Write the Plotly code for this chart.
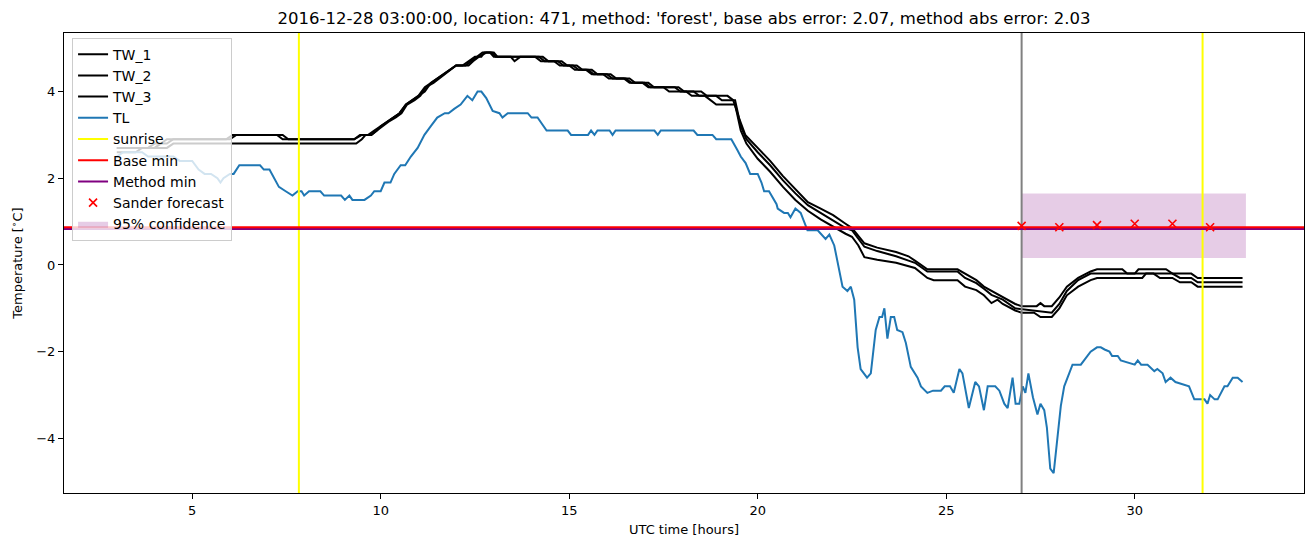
import plotly.graph_objects as go

# ---------------- data ----------------
tl_pts = [(3.0,2.5),(3.17,2.6),(3.67,2.6),(3.83,2.5),(4.5,2.5),(4.67,2.4),(5.0,2.4),(5.17,2.2),(5.33,2.1),
          (5.5,2.1),(5.67,2.0),(5.75,1.9),(5.83,2.0),(6.0,2.1),(6.1,2.1),(6.25,2.3),(6.8,2.3),(6.9,2.2),
          (7.05,2.2),(7.3,1.8),(7.48,1.7),(7.66,1.6),(7.8,1.7),(7.9,1.7),(7.97,1.6),(8.1,1.7),(8.4,1.7),
          (8.5,1.6),(8.95,1.6),(9.05,1.5),(9.17,1.6),(9.25,1.5),(9.57,1.5),(9.74,1.6),(9.83,1.7),(10.0,1.7),
          (10.1,1.9),(10.26,1.9),(10.36,2.1),(10.53,2.3),(10.65,2.3),(10.8,2.5),(10.98,2.7),(11.16,3.0),
          (11.33,3.2),(11.5,3.4),(11.7,3.5),(11.8,3.5),(11.95,3.6),(12.12,3.7),(12.3,3.9),(12.43,3.8),
          (12.57,4.0),(12.67,4.0),(12.8,3.85),(12.97,3.55),(13.15,3.5),(13.23,3.4),(13.37,3.5),(13.9,3.5),
          (14.0,3.4),(14.16,3.4),(14.4,3.1),(14.96,3.1),(15.05,3.0),(15.5,3.0),(15.58,3.1),(15.67,3.0),
          (15.75,3.1),(16.07,3.1),(16.15,3.0),(16.23,3.1),(17.26,3.1),(17.35,3.0),(17.43,3.1),(18.3,3.1),
          (18.4,3.0),(18.8,3.0),(18.9,2.9),(19.3,2.9),(19.46,2.65),(19.55,2.5),(19.68,2.35),(19.8,2.1),
          (20.0,2.1),(20.1,1.9),(20.17,1.7),(20.3,1.7),(20.5,1.4),(20.53,1.3),(20.7,1.2),(20.8,1.2),
          (20.87,1.1),(21.0,1.3),(21.14,1.2),(21.32,0.8),(21.59,0.8),(21.8,0.6),(21.9,0.7),(22.03,0.45),
          (22.25,-0.5),(22.38,-0.6),(22.47,-0.5),(22.56,-0.8),(22.65,-1.9),(22.73,-2.4),(22.9,-2.6),
          (23.0,-2.5),(23.13,-1.5),(23.23,-1.2),(23.3,-1.2),(23.36,-1.0),(23.44,-1.7),(23.53,-1.2),
          (23.62,-1.2),(23.7,-1.5),(23.84,-1.55),(23.93,-1.8),(24.06,-2.35),(24.24,-2.6),(24.33,-2.8),
          (24.5,-2.95),(24.65,-2.9),(24.86,-2.9),(24.96,-2.8),(25.1,-2.8),(25.2,-2.95),(25.35,-2.4),
          (25.43,-2.5),(25.6,-3.3),(25.77,-2.7),(25.87,-2.8),(26.0,-3.35),(26.1,-2.8),(26.3,-2.8),
          (26.41,-2.9),(26.54,-3.2),(26.63,-3.3),(26.76,-2.6),(26.84,-3.2),(26.94,-3.2),(27.03,-2.8),
          (27.1,-2.95),(27.18,-2.5),(27.3,-3.05),(27.42,-3.45),(27.5,-3.2),(27.6,-3.35),(27.67,-3.75),
          (27.76,-4.7),(27.85,-4.8),(27.95,-4.05),(28.04,-3.25),(28.13,-2.8),(28.27,-2.45),(28.35,-2.3),
          (28.57,-2.3),(28.7,-2.15),(28.83,-2.0),(29.0,-1.9),(29.1,-1.9),(29.2,-1.95),(29.33,-2.0),
          (29.4,-2.1),(29.55,-2.1),(29.63,-2.2),(30.0,-2.3),(30.08,-2.2),(30.17,-2.3),(30.34,-2.3),
          (30.52,-2.45),(30.6,-2.4),(30.74,-2.5),(30.82,-2.7),(30.95,-2.6),(31.08,-2.7),(31.26,-2.75),
          (31.44,-2.8),(31.58,-3.1),(31.85,-3.1),(31.93,-3.2),(32.0,-3.0),(32.12,-3.1),(32.2,-3.1),
          (32.38,-2.8),(32.46,-2.8),(32.6,-2.6),(32.73,-2.6),(32.86,-2.7)]

tw2_pts = [(3.0,2.7),(3.83,2.7),(4.0,2.8),(4.17,2.8),(4.33,2.9),(5.9,2.9),(6.07,3.0),(7.25,3.0),(7.4,2.9),
           (9.3,2.9),(9.45,3.0),(9.67,3.0),(9.83,3.1),(10.0,3.2),(10.17,3.3),(10.33,3.4),(10.5,3.5),
           (10.67,3.7),(10.83,3.8),(11.0,3.9),(11.17,4.1),(11.33,4.2),(11.5,4.3),(11.67,4.4),(11.83,4.5),
           (12.0,4.6),(12.17,4.6),(12.33,4.7),(12.5,4.8),(12.67,4.8),(12.75,4.9),(13.0,4.9),(13.1,4.8),
           (14.2,4.8),(14.35,4.7),(14.7,4.7),(14.85,4.6),(15.1,4.6),(15.25,4.5),(15.5,4.5),(15.65,4.4),
           (16.0,4.4),(16.15,4.3),(16.5,4.3),(16.65,4.2),(17.0,4.2),(17.15,4.1),(17.8,4.1),(17.95,4.0),
           (18.5,4.0),(18.65,3.9),(19.2,3.9),(19.35,3.8),(19.5,3.4),(19.67,3.0),(20.0,2.7),(20.33,2.4),
           (20.67,2.05),(21.0,1.75),(21.33,1.45),(21.67,1.3),(22.0,1.15),(22.33,0.95),(22.5,0.85),
           (22.83,0.5),(23.17,0.4),(23.67,0.3),(24.0,0.2),(24.17,0.1),(24.5,-0.1),(25.3,-0.1),(25.5,-0.2),
           (25.8,-0.35),(26.0,-0.5),(26.2,-0.6),(26.5,-0.75),(26.83,-0.9),(27.0,-0.95),(27.4,-0.95),
           (27.5,-0.88),(27.6,-0.95),(27.8,-0.95),(28.0,-0.75),(28.2,-0.5),(28.5,-0.3),(28.83,-0.15),
           (29.0,-0.1),(29.67,-0.1),(29.8,-0.2),(30.0,-0.2),(30.1,-0.1),(30.83,-0.1),(31.0,-0.2),
           (31.5,-0.2),(31.67,-0.3),(32.86,-0.3)]

tw1_pts = [(3.0,2.7),(4.0,2.7),(4.17,2.8),(4.33,2.8),(4.5,2.9),(6.0,2.9),(6.17,3.0),(7.4,3.0),(7.55,2.9),
           (9.3,2.9),(9.5,3.0),(9.75,3.0),(9.9,3.1),(10.05,3.2),(10.2,3.3),(10.4,3.4),(10.55,3.5),
           (10.7,3.7),(10.9,3.8),(11.05,3.9),(11.2,4.1),(11.4,4.2),(11.55,4.3),(11.7,4.4),(11.85,4.5),
           (12.0,4.6),(12.33,4.6),(12.45,4.7),(12.6,4.8),(12.8,4.9),(12.95,4.9),(13.05,4.8),(13.45,4.8),
           (13.55,4.7),(13.7,4.8),(14.3,4.8),(14.45,4.7),(14.8,4.7),(14.95,4.6),(15.2,4.6),(15.35,4.5),
           (15.6,4.5),(15.75,4.4),(16.1,4.4),(16.25,4.3),(16.6,4.3),(16.75,4.2),(17.1,4.2),(17.25,4.1),
           (17.9,4.1),(18.05,4.0),(18.3,4.0),(18.45,3.9),(18.9,3.9),(19.05,3.8),(19.4,3.8),(19.55,3.2),
           (19.7,2.9),(20.0,2.6),(20.33,2.3),(20.67,1.95),(21.0,1.65),(21.33,1.38),(21.67,1.2),
           (22.0,1.03),(22.33,0.85),(22.5,0.8),(22.83,0.42),(23.17,0.32),(23.67,0.2),(24.0,0.1),
           (24.17,0.05),(24.5,-0.15),(25.3,-0.15),(25.5,-0.3),(25.8,-0.42),(26.0,-0.55),(26.2,-0.69),
           (26.5,-0.8),(26.83,-1.0),(27.8,-1.1),(28.0,-0.9),(28.2,-0.6),(28.5,-0.35),(28.83,-0.2),
           (30.5,-0.2),(30.67,-0.2),(31.0,-0.2),(31.2,-0.3),(31.5,-0.3),(31.67,-0.4),(32.86,-0.4)]

tw3_pts = [(3.0,2.6),(3.5,2.6),(3.67,2.7),(4.33,2.7),(4.5,2.8),(9.35,2.8),(9.5,2.9),(9.6,3.0),(9.75,3.0),
           (9.9,3.1),(10.0,3.2),(10.17,3.3),(10.33,3.4),(10.5,3.5),(10.67,3.7),(10.83,3.8),(11.0,3.9),
           (11.17,4.0),(11.33,4.2),(11.5,4.3),(11.67,4.4),(11.83,4.5),(12.0,4.6),(12.25,4.6),(12.4,4.7),
           (12.55,4.8),(12.7,4.9),(12.9,4.9),(13.0,4.8),(14.1,4.8),(14.25,4.7),(14.6,4.7),(14.75,4.6),
           (15.0,4.6),(15.15,4.5),(15.45,4.5),(15.6,4.4),(15.9,4.4),(16.05,4.3),(16.45,4.3),(16.6,4.2),
           (16.95,4.2),(17.1,4.1),(17.5,4.1),(17.65,4.0),(18.1,4.0),(18.25,3.9),(18.6,3.9),(18.75,3.8),
           (18.9,3.7),(19.4,3.7),(19.55,3.1),(19.7,2.8),(20.0,2.45),(20.33,2.15),(20.67,1.8),(21.0,1.5),
           (21.33,1.25),(21.67,1.05),(22.0,0.88),(22.33,0.72),(22.5,0.65),(22.67,0.45),(22.83,0.18),
           (23.17,0.12),(23.67,0.05),(24.0,-0.03),(24.17,-0.07),(24.5,-0.3),(24.67,-0.35),(25.3,-0.35),
           (25.5,-0.5),(25.8,-0.58),(26.0,-0.7),(26.2,-0.88),(26.36,-0.8),(26.5,-0.9),(26.83,-1.05),
           (27.0,-1.1),(27.33,-1.1),(27.5,-1.2),(27.8,-1.2),(28.0,-1.0),(28.2,-0.7),(28.5,-0.5),
           (28.83,-0.35),(29.0,-0.3),(30.2,-0.3),(30.3,-0.2),(30.5,-0.2),(30.67,-0.3),(31.0,-0.3),
           (31.2,-0.4),(31.5,-0.4),(31.67,-0.5),(32.86,-0.5)]

sunrise_hours = [7.83, 31.8]
forecast_time = 27.0
base_min = 0.87
method_min = 0.83
sander_hours = [27, 28, 29, 30, 31, 32]
sander_values = [0.90, 0.87, 0.92, 0.95, 0.95, 0.87]
conf_hours = [27.0, 32.95]
conf_low = 0.16
conf_high = 1.65

x_range = [1.6, 34.49]
y_range = [-5.26, 5.35]

title = "2016-12-28 03:00:00, location: 471, method: 'forest', base abs error: 2.07, method abs error: 2.03"

# ---------------- figure ----------------
FONT = "DejaVu Sans"
fig = go.Figure()

def unzip(pts):
    return [p[0] for p in pts], [p[1] for p in pts]

# confidence band (drawn first, listed last)
fig.add_trace(go.Scatter(
    x=[conf_hours[0], conf_hours[1], conf_hours[1], conf_hours[0], conf_hours[0]],
    y=[conf_low, conf_low, conf_high, conf_high, conf_low],
    fill="toself", fillcolor="rgba(128,0,128,0.2)", line=dict(width=0),
    mode="lines", name="95% confidence", legendrank=9, hoverinfo="skip"))

for i, pts in enumerate([tw1_pts, tw2_pts, tw3_pts]):
    x, y = unzip(pts)
    fig.add_trace(go.Scatter(x=x, y=y, mode="lines", name=f"TW_{i+1}",
                             line=dict(color="black", width=2), legendrank=i + 1))

x, y = unzip(tl_pts)
fig.add_trace(go.Scatter(x=x, y=y, mode="lines", name="TL",
                         line=dict(color="#1f77b4", width=2), legendrank=4))

# sunrise vertical lines
sx, sy = [], []
for h in sunrise_hours:
    sx += [h, h, None]
    sy += [y_range[0], y_range[1], None]
fig.add_trace(go.Scatter(x=sx, y=sy, mode="lines", name="sunrise",
                         line=dict(color="#ffff00", width=2), legendrank=5))

# forecast time vertical line (no legend)
fig.add_trace(go.Scatter(x=[forecast_time, forecast_time], y=y_range, mode="lines",
                         line=dict(color="grey", width=2), showlegend=False))

fig.add_trace(go.Scatter(x=x_range, y=[method_min, method_min], mode="lines", name="Method min",
                         line=dict(color="purple", width=2), legendrank=7))
fig.add_trace(go.Scatter(x=x_range, y=[base_min, base_min], mode="lines", name="Base min",
                         line=dict(color="red", width=2), legendrank=6))

fig.add_trace(go.Scatter(x=sander_hours, y=sander_values, mode="markers", name="Sander forecast",
                         marker=dict(symbol="x-thin", size=8, color="red",
                                     line=dict(width=1.6, color="red")), legendrank=8))

axis_common = dict(showline=True, linecolor="black", linewidth=1, mirror=True,
                   ticks="outside", ticklen=5, tickwidth=1, tickcolor="black",
                   showgrid=False, zeroline=False,
                   tickfont=dict(family=FONT, size=13, color="black"))

fig.update_layout(
    width=1313, height=547,
    margin=dict(l=64, r=9, t=33, b=54),
    paper_bgcolor="white", plot_bgcolor="white",
    font=dict(family=FONT, size=13, color="black"),
    title=dict(text=title, x=0.5, xref="paper", y=1 - 18 / 547, yref="container",
               xanchor="center", yanchor="middle", font=dict(family=FONT, size=16.5, color="black")),
    xaxis=dict(range=x_range, tickvals=[5, 10, 15, 20, 25, 30],
               title=dict(text="UTC time [hours]", font=dict(family=FONT, size=13), standoff=8),
               **axis_common),
    yaxis=dict(range=y_range, tickvals=[-4, -2, 0, 2, 4],
               title=dict(text="Temperature [<sup>∘</sup>C]", font=dict(family=FONT, size=13), standoff=10),
               **axis_common),
    legend=dict(x=0.0065, y=0.99, xanchor="left", yanchor="top",
                bgcolor="rgba(255,255,255,0.8)", bordercolor="#cccccc", borderwidth=1,
                font=dict(family=FONT, size=14), itemwidth=30, tracegroupgap=0),
    showlegend=True,
)

fig.write_html("out.html")
